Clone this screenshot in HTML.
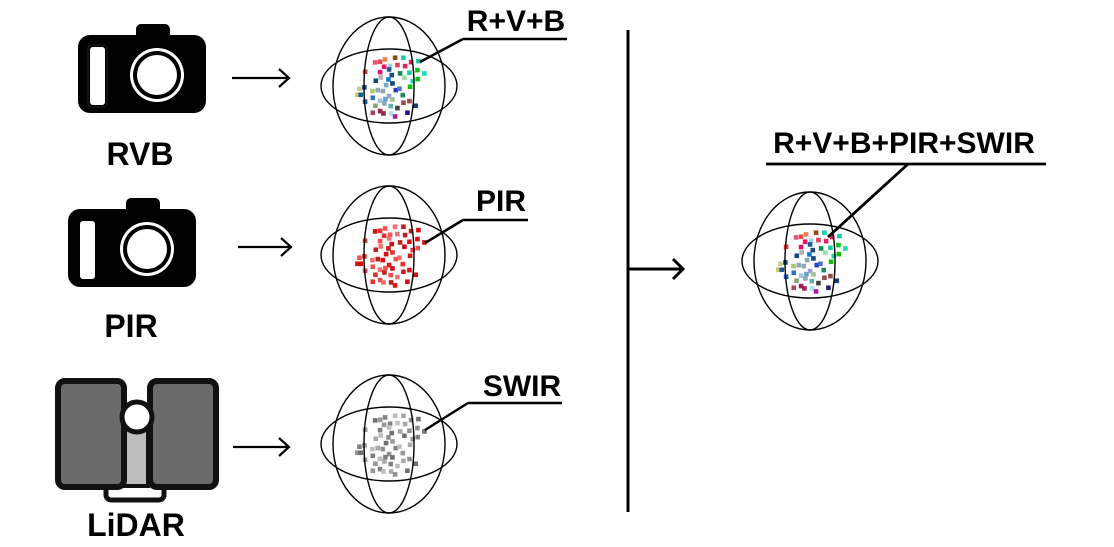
<!DOCTYPE html>
<html><head><meta charset="utf-8">
<style>
html,body{margin:0;padding:0;background:#fff;}
svg{display:block;}
text{font-family:"Liberation Sans","DejaVu Sans",sans-serif;font-weight:bold;fill:#000;}
</style></head>
<body>
<svg id="s" width="1114" height="547" viewBox="0 0 1114 547" xmlns="http://www.w3.org/2000/svg">
  <g>
    <rect x="136" y="24" width="34" height="16" rx="5" fill="#000"/>
    <rect x="78" y="35" width="128" height="78" rx="12" fill="#000"/>
    <rect x="90" y="47" width="15" height="58" rx="3" fill="#fff"/>
    <rect x="88" y="45" width="19" height="62" rx="4" fill="none" stroke="#222" stroke-width="1"/>
    <circle cx="157" cy="75" r="27" fill="#fff"/>
    <circle cx="157" cy="75" r="24" fill="#000"/>
    <circle cx="157" cy="75" r="20" fill="#fff"/>
  </g>
  <text x="140" y="165" font-size="32" text-anchor="middle">RVB</text>
  <g transform="translate(-10,174)">
    <rect x="136" y="24" width="34" height="16" rx="5" fill="#000"/>
    <rect x="78" y="35" width="128" height="78" rx="12" fill="#000"/>
    <rect x="90" y="47" width="15" height="58" rx="3" fill="#fff"/>
    <circle cx="157" cy="75" r="27" fill="#fff"/>
    <circle cx="157" cy="75" r="24" fill="#000"/>
    <circle cx="157" cy="75" r="20" fill="#fff"/>
  </g>
  <text x="131" y="337" font-size="32" text-anchor="middle">PIR</text>
  <g>
    <rect x="106" y="482" width="58" height="18" rx="5" fill="none" stroke="#111" stroke-width="5"/>
    <rect x="124" y="428" width="24" height="58" fill="#bdbdbd" stroke="#111" stroke-width="4"/>
    <rect x="58" y="381" width="66" height="106" rx="7" fill="#6b6b6b" stroke="#111" stroke-width="6"/>
    <rect x="150" y="381" width="66" height="106" rx="7" fill="#6b6b6b" stroke="#111" stroke-width="6"/>
    <circle cx="137" cy="417" r="15" fill="#fff" stroke="#111" stroke-width="5"/>
  </g>
  <text x="136" y="536" font-size="32" text-anchor="middle">LiDAR</text>

  <g stroke="#000" stroke-width="2.2" fill="none">
    <path d="M232 78 H289 M279 69 L289 78 L279 87"/>
    <path d="M238 247 H291 M281 238 L291 247 L281 256"/>
    <path d="M233 447 H289 M279 438 L289 447 L279 456"/>
    <path d="M628 30 V512" stroke-width="3"/>
    <path d="M628 269 H683 M673 259 L683 269 L673 279" stroke-width="3"/>
  </g>

  <text x="516" y="31" font-size="30" text-anchor="middle">R+V+B</text>
  <path d="M463 39 H567 M463 39 L420 62" stroke="#000" stroke-width="2.5" fill="none"/>
  <text x="501" y="211" font-size="30" text-anchor="middle">PIR</text>
  <path d="M463 220 H528 M463 220 L425 243" stroke="#000" stroke-width="2.5" fill="none"/>
  <text x="522" y="396" font-size="30" text-anchor="middle">SWIR</text>
  <path d="M468 403 H562 M468 403 L425 430" stroke="#000" stroke-width="2.5" fill="none"/>
  <text x="904" y="153" font-size="30" text-anchor="middle">R+V+B+PIR+SWIR</text>
  <path d="M766 164 H1046 M908 164 L828 237" stroke="#000" stroke-width="2.8" fill="none"/>
</svg>
<script>
const ptsX=[195,210,225,255,280,303,325,222,240,262,285,322,343,165,210,237,270,298,283,308,323,212,197,235,245,163,148,187,203,218,228,247,257,268,300,142,152,165,188,210,223,237,247,278,242,262,280,298,317,188,210,220,243,255,292,196,226];
const ptsY=[187,185,178,173,173,186,183,200,197,195,198,210,220,215,216,208,220,218,233,243,237,232,242,238,225,262,266,273,270,273,255,250,270,266,260,284,284,305,293,302,310,288,298,285,318,324,308,303,317,338,333,340,340,349,338,317,297];
const rgbColors=['#e8557a','#e84a4a','#f08050','#8b4a10','#10d0b0','#e0205a','#10c8a0','#e81060','#a0d0f0','#e83a5a','#e02060','#10c020','#10e0b0','#e83030','#e01070','#1a5a90','#108858','#10d0a0','#a0d8b0','#10d8b0','#10c010','#b0b0b0','#104880','#1080e0','#1a4a80','#1a4a8a','#c8c890','#a8c870','#90a8b8','#90a8b0','#80a8c8','#104880','#2040c0','#5070d0','#10c010','#c8c870','#1a5a90','#1060c0','#3070c0','#a0c0e0','#90a8b8','#a0a0d8','#a0c090','#208860','#60b0b0','#404040','#9a4a50','#9a4a50','#1a3a80','#a04860','#a02050','#a02050','#b0e0f0','#a020a0','#201880','#80a870','#70a0c0'];
const pirColors=['#d01010','#e83030','#f05050','#f07070','#c02020','#e01010'];
const swirColors=['#707070','#909090','#a8a8a8','#bdbdbd','#808080','#989898'];
const spheres=[
 {name:'rvb-sphere',cx:389,cy:86,pal:'rgb'},
 {name:'pir-sphere',cx:389,cy:255,pal:'pir'},
 {name:'swir-sphere',cx:389,cy:444,pal:'swir'},
 {name:'fused-sphere',cx:810,cy:261,pal:'rgb'}
];
const NS='http://www.w3.org/2000/svg';
const svg=document.getElementById('s');
spheres.forEach(function(sp){
  const g=document.createElementNS(NS,'g');
  
  
  for(let i=0;i<ptsX.length;i++){
    const r=document.createElementNS(NS,'rect');
    const x=sp.cx+(ptsX[i]/3-79), y=sp.cy+(ptsY[i]/3-86);
    r.setAttribute('x',x-2.2);r.setAttribute('y',y-2.2);
    r.setAttribute('width',4.6);r.setAttribute('height',4.6);
    let c=sp.pal==='rgb'?rgbColors[i%rgbColors.length]:sp.pal==='pir'?pirColors[(i*7)%pirColors.length]:swirColors[(i*5)%swirColors.length];
    r.setAttribute('fill',c);
    
    
    g.appendChild(r);
  }
  const ells=[[56,69],[68,37],[25,69]];
  ells.forEach(function(e){
    const el=document.createElementNS(NS,'ellipse');
    el.setAttribute('cx',sp.cx);el.setAttribute('cy',sp.cy);
    el.setAttribute('rx',e[0]);el.setAttribute('ry',e[1]);
    el.setAttribute('fill','none');el.setAttribute('stroke','#000');el.setAttribute('stroke-width','1.4');
    
    
    g.appendChild(el);
  });
  svg.insertBefore(g,svg.firstChild);
});
</script>
</body></html>
